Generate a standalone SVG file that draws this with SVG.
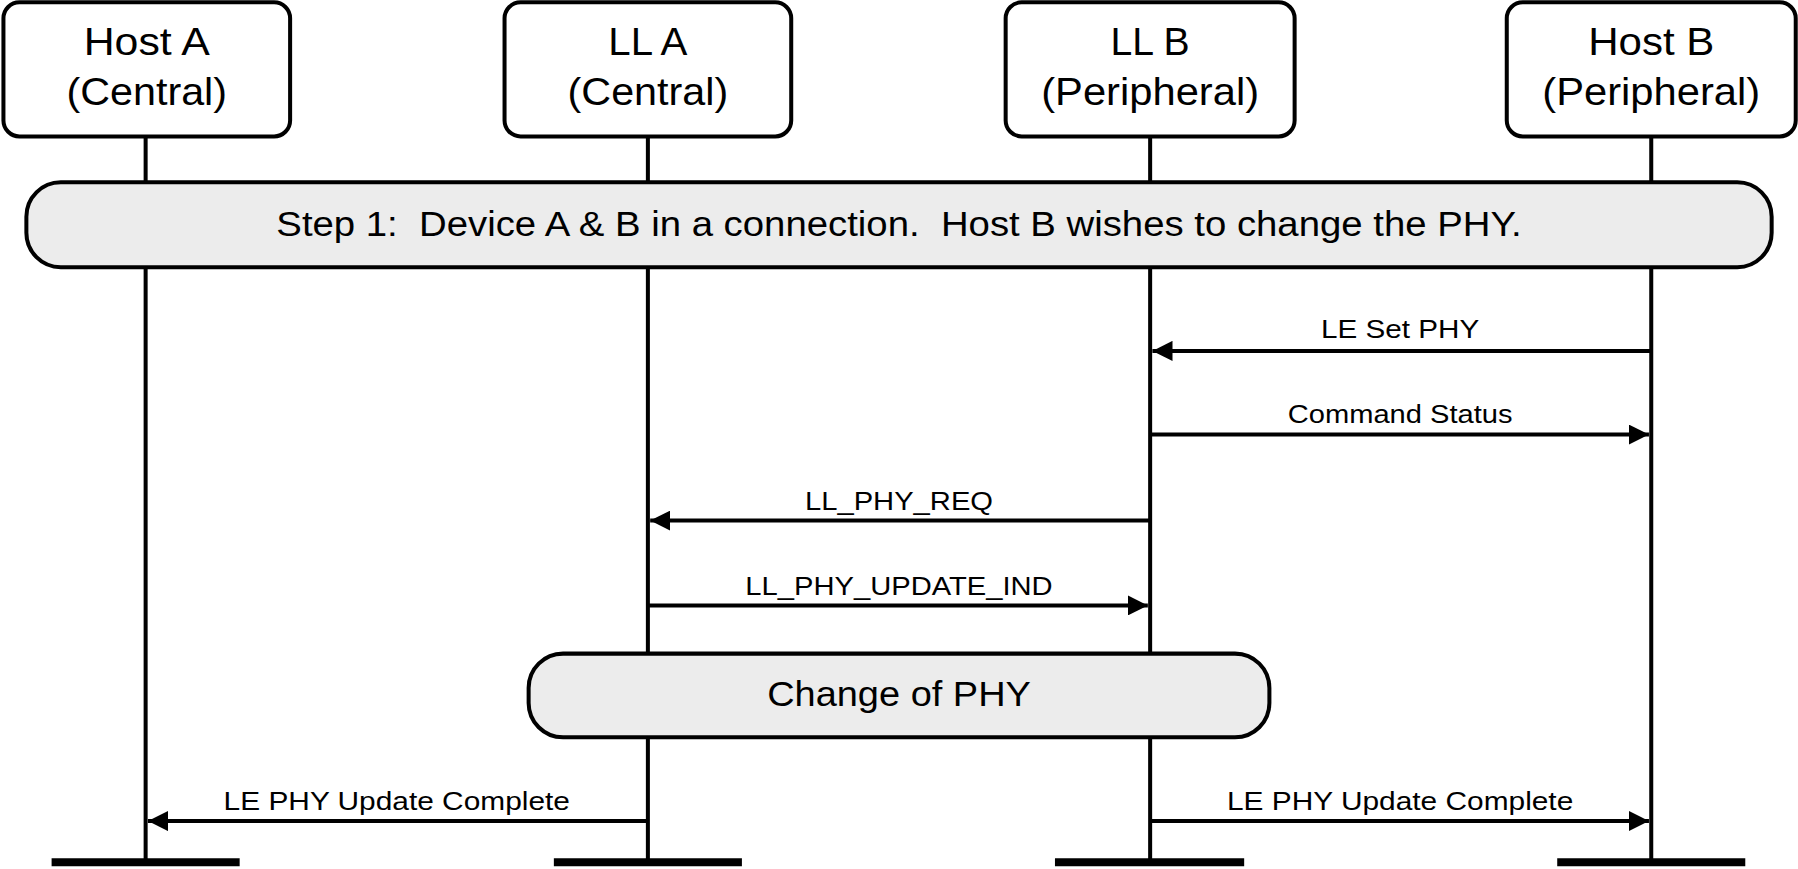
<svg xmlns="http://www.w3.org/2000/svg" width="1798" height="869" viewBox="0 0 1798 869">
<style>
.box{fill:#fff;stroke:#000;stroke-width:3.5}
.band{fill:#ececec;stroke:#000;stroke-width:3.5}
.life{stroke:#000;stroke-width:3.5}
.bar{stroke:#000;stroke-width:7}
.msg{stroke:#000;stroke-width:3.5;fill:none;marker-end:url(#ah)}
text{font-family:"Liberation Sans",Arial,sans-serif;text-anchor:middle}
.h{font-size:34px}
.b{font-size:30px}
.l{font-size:22px}
</style>
<defs><marker id="ah" viewBox="0 0 10 10" refX="10" refY="5" markerWidth="5" markerHeight="5" orient="auto"><path d="M0,0L10,5L0,10z" fill="#000"/></marker></defs>
<rect width="1798" height="869" fill="#fff"/>
<g transform="scale(1.1467)">
<g id="lifelines">
<line class="life" x1="127" y1="119" x2="127" y2="752"/>
<line class="life" x1="565" y1="119" x2="565" y2="752"/>
<line class="life" x1="1003" y1="119" x2="1003" y2="752"/>
<line class="life" x1="1440" y1="119" x2="1440" y2="752"/>
<line class="bar" x1="45" y1="752" x2="209" y2="752"/>
<line class="bar" x1="483" y1="752" x2="647" y2="752"/>
<line class="bar" x1="920" y1="752" x2="1085" y2="752"/>
<line class="bar" x1="1358" y1="752" x2="1522" y2="752"/>
</g>
<g id="hostA"><rect class="box" x="3" y="2" width="250" height="117" rx="14"/><text class="h" x="128" y="48" textLength="110" lengthAdjust="spacingAndGlyphs">Host A</text><text class="h" x="128" y="92" textLength="140" lengthAdjust="spacingAndGlyphs">(Central)</text></g>
<g id="llA"><rect class="box" x="440" y="2" width="250" height="117" rx="14"/><text class="h" x="565" y="48" textLength="69" lengthAdjust="spacingAndGlyphs">LL A</text><text class="h" x="565" y="92" textLength="140" lengthAdjust="spacingAndGlyphs">(Central)</text></g>
<g id="llB"><rect class="box" x="877" y="2" width="252" height="117" rx="14"/><text class="h" x="1003" y="48" textLength="69" lengthAdjust="spacingAndGlyphs">LL B</text><text class="h" x="1003" y="92" textLength="190" lengthAdjust="spacingAndGlyphs">(Peripheral)</text></g>
<g id="hostB"><rect class="box" x="1314" y="2" width="252" height="117" rx="14"/><text class="h" x="1440" y="48" textLength="110" lengthAdjust="spacingAndGlyphs">Host B</text><text class="h" x="1440" y="92" textLength="190" lengthAdjust="spacingAndGlyphs">(Peripheral)</text></g>
<g id="step1"><rect class="band" x="23" y="159" width="1522" height="74" rx="30"/><text class="b" x="784" y="206" xml:space="preserve" textLength="1086" lengthAdjust="spacingAndGlyphs">Step 1:  Device A &amp; B in a connection.  Host B wishes to change the PHY.</text></g>
<g id="change"><rect class="band" x="461" y="570" width="646" height="73" rx="30"/><text class="b" x="784" y="616" textLength="230" lengthAdjust="spacingAndGlyphs">Change of PHY</text></g>
<g id="connectors">
<line class="msg" x1="1440" y1="306" x2="1005" y2="306"/>
<line class="msg" x1="1003" y1="379" x2="1438" y2="379"/>
<line class="msg" x1="1003" y1="454" x2="567" y2="454"/>
<line class="msg" x1="565" y1="528" x2="1001" y2="528"/>
<line class="msg" x1="565" y1="716" x2="129" y2="716"/>
<line class="msg" x1="1003" y1="716" x2="1438" y2="716"/>
<text class="l" x="1221" y="295" textLength="138" lengthAdjust="spacingAndGlyphs">LE Set PHY</text>
<text class="l" x="1221" y="369" textLength="196" lengthAdjust="spacingAndGlyphs">Command Status</text>
<text class="l" x="784" y="445" textLength="164" lengthAdjust="spacingAndGlyphs">LL_PHY_REQ</text>
<text class="l" x="784" y="519" textLength="268" lengthAdjust="spacingAndGlyphs">LL_PHY_UPDATE_IND</text>
<text class="l" x="346" y="706" textLength="302" lengthAdjust="spacingAndGlyphs">LE PHY Update Complete</text>
<text class="l" x="1221" y="706" textLength="302" lengthAdjust="spacingAndGlyphs">LE PHY Update Complete</text>
</g>
</g>
</svg>
